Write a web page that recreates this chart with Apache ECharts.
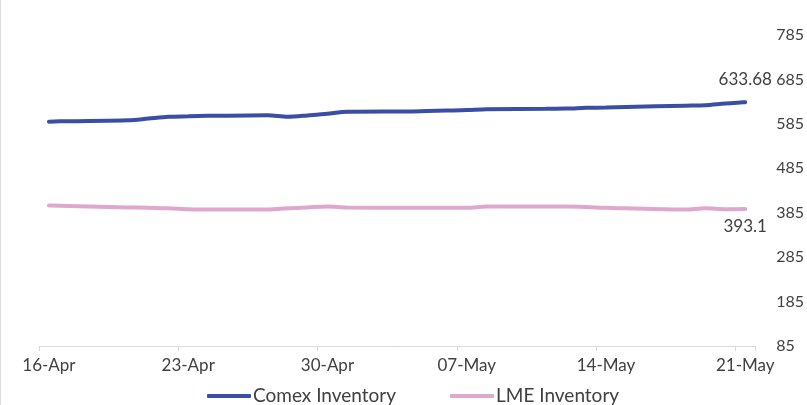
<!DOCTYPE html>
<html>
<head>
<meta charset="utf-8">
<script src="https://cdn.jsdelivr.net/npm/echarts@6/dist/echarts.min.js"></script>
<style>
html,body{margin:0;padding:0;background:#fff;}
#c{width:807px;height:405px;}
</style>
</head>
<body>
<div id="c"></div>
<script>
// Daily dates 16-Apr .. 21-May (weekends have no data)
const dates = ["16-Apr","17-Apr","18-Apr","19-Apr","20-Apr","21-Apr","22-Apr","23-Apr","24-Apr","25-Apr","26-Apr","27-Apr","28-Apr","29-Apr","30-Apr",
  "01-May","02-May","03-May","04-May","05-May","06-May","07-May","08-May","09-May","10-May","11-May","12-May","13-May","14-May","15-May","16-May","17-May","18-May","19-May","20-May","21-May"];
const comex = [590,591,null,null,593,597,601,602,603,null,null,604.5,601,604,608,
  612,null,null,613,614,615,616,618,null,null,619,619.5,621,622,623,null,null,626,627,631,633.68];
const lme = [401,400,null,null,397,396,395,393,392,null,null,392,395,397,399,
  397,null,null,396,396,396,396,399,null,null,399,399,398,396,395,null,null,392,395,393,393.1];
const yTicks = {min:85, max:785, step:100};
const seriesNames = ["Comex Inventory","LME Inventory"];

const FONT = 'Lato';
const chart = echarts.init(document.getElementById('c'));
const last = dates.length - 1;
function lastOnly(p){ return p.dataIndex===last ? String(p.value) : ''; }
chart.setOption({
  animation:false,
  backgroundColor:'#fff',
  textStyle:{fontFamily:FONT},
  graphic:[{type:'line', shape:{x1:0.5,y1:0,x2:0.5,y2:405}, style:{stroke:'#d9d9d9', lineWidth:1}}],
  grid:{left:39,right:50,top:35,bottom:59},
  legend:{
    top:381, left:202,
    itemWidth:44, itemHeight:4, itemGap:54,
    icon:'roundRect',
    textStyle:{fontFamily:FONT,fontSize:19,lineHeight:20,color:'#404040',padding:[0,0,0,-3]},
    data:seriesNames
  },
  xAxis:{
    type:'category', data:dates, boundaryGap:true,
    axisLine:{lineStyle:{color:'#d9d9d9',width:1}},
    axisTick:{show:true, interval:6, length:5, lineStyle:{color:'#d9d9d9'}},
    axisLabel:{interval:6, margin:11, fontFamily:FONT, fontSize:17, color:'#404040'},
    splitLine:{show:false}
  },
  yAxis:{
    type:'value', position:'right', min:yTicks.min, max:yTicks.max, interval:yTicks.step,
    axisLine:{show:false}, axisTick:{show:false}, splitLine:{show:false},
    axisLabel:{margin:21, align:'left', fontFamily:FONT, fontSize:16, color:'#404040'}
  },
  series:[
    {name:seriesNames[0], type:'line', data:comex, connectNulls:true, smooth:0.3,
     symbol:'circle', symbolSize:1, showSymbol:true,
     lineStyle:{color:'#3b4ea6', width:4, cap:'round'}, itemStyle:{color:'#3b4ea6'},
     label:{show:true, position:'top', distance:14, fontFamily:FONT, fontSize:17, color:'#404040', formatter:lastOnly}},
    {name:seriesNames[1], type:'line', data:lme, connectNulls:true, smooth:0.3,
     symbol:'circle', symbolSize:1, showSymbol:true,
     lineStyle:{color:'#dea8ce', width:4, cap:'round'}, itemStyle:{color:'#dea8ce'},
     label:{show:true, position:'bottom', distance:8, fontFamily:FONT, fontSize:17, color:'#404040', formatter:lastOnly}}
  ]
});
</script>
</body>
</html>
